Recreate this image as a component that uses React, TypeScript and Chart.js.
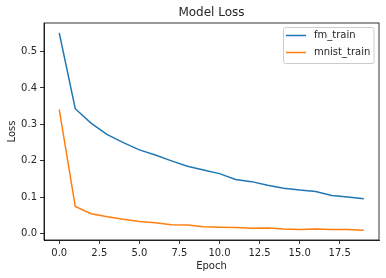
import React, { useEffect, useRef } from "react";
import { Chart, registerables } from "chart.js";

Chart.register(...registerables);

const epochs = [0, 1, 2, 3, 4, 5, 6, 7, 8, 9, 10, 11, 12, 13, 14, 15, 16, 17, 18, 19];
const fmTrain = [0.551, 0.343, 0.303, 0.272, 0.25, 0.23, 0.216, 0.2, 0.185, 0.175, 0.165, 0.149, 0.143, 0.133, 0.125, 0.12, 0.116, 0.105, 0.101, 0.096];
const mnistTrain = [0.3415, 0.075, 0.055, 0.047, 0.04, 0.034, 0.03, 0.025, 0.024, 0.019, 0.018, 0.017, 0.015, 0.016, 0.013, 0.012, 0.013, 0.012, 0.012, 0.01];
const seriesNames = ["fm_train", "mnist_train"];
const seriesColors = ["#1f77b4", "#ff7f0e"];
const xTicks = [0, 2.5, 5, 7.5, 10, 12.5, 15, 17.5];
const yTicks = [0, 0.1, 0.2, 0.3, 0.4, 0.5];
const titleText = "Model Loss";
const xTitle = "Epoch";
const yTitle = "Loss";

const FONT = "DejaVu Sans";
const TXT = "#262626";

export default function App() {
  const ref = useRef<HTMLCanvasElement | null>(null);

  useEffect(() => {
    document.body.style.margin = "0";
    const canvas = ref.current!;
    const all = [...fmTrain, ...mnistTrain];
    const dMin = Math.min(...all);
    const dMax = Math.max(...all);
    const yPad = (dMax - dMin) * 0.05;
    const xMin = Math.min(...epochs);
    const xMax = Math.max(...epochs);
    const xPad = (xMax - xMin) * 0.05;

    const framePlugin = {
      id: "frame",
      afterDraw(chart: any) {
        const { ctx, chartArea } = chart;
        const { left, right, top, bottom } = chartArea;
        ctx.save();
        ctx.strokeStyle = "#000";
        ctx.lineWidth = 0.8;
        ctx.strokeRect(left, top, right - left, bottom - top);
        // title
        ctx.fillStyle = TXT;
        ctx.font = `12px "${FONT}"`;
        ctx.textAlign = "center";
        ctx.textBaseline = "middle";
        ctx.fillText(titleText, (left + right) / 2, 13);
        // legend
        const bx = right - 96;
        const by = top + 4;
        const bw = 90.5;
        const bh = 36;
        ctx.fillStyle = "rgba(255,255,255,0.8)";
        ctx.strokeStyle = "#cccccc";
        ctx.lineWidth = 1;
        ctx.beginPath();
        (ctx as any).roundRect(bx + 0.5, by + 0.5, bw, bh, 2);
        ctx.fill();
        ctx.stroke();
        chart.data.datasets.forEach((ds: any, i: number) => {
          const ry = by + 8.5 + i * 17;
          ctx.strokeStyle = ds.borderColor;
          ctx.lineWidth = 1.5;
          ctx.beginPath();
          ctx.moveTo(bx + 3, ry);
          ctx.lineTo(bx + 23, ry);
          ctx.stroke();
          ctx.fillStyle = TXT;
          ctx.font = `10px "${FONT}"`;
          ctx.textAlign = "left";
          ctx.textBaseline = "middle";
          ctx.fillText(ds.label, bx + 31, ry);
        });
        ctx.restore();
      },
    };

    const chart = new Chart(canvas, {
      type: "line",
      data: {
        datasets: [fmTrain, mnistTrain].map((arr, k) => ({
          label: seriesNames[k],
          data: epochs.map((e, i) => ({ x: e, y: arr[i] })),
          borderColor: seriesColors[k],
          backgroundColor: seriesColors[k],
          borderWidth: 1.5,
          pointRadius: 0,
          tension: 0,
          fill: false,
        })),
      },
      options: {
        responsive: false,
        animation: false,
        layout: { padding: { top: 23, right: 7, left: 0, bottom: 0 } },
        plugins: {
          legend: { display: false },
          title: { display: false },
          tooltip: { enabled: false },
        },
        scales: {
          x: {
            type: "linear",
            min: xMin - xPad,
            max: xMax + xPad,
            afterBuildTicks: (s: any) => {
              s.ticks = xTicks.map((v) => ({ value: v }));
            },
            afterFit: (s: any) => {
              s.height = 38;
            },
            ticks: {
              color: TXT,
              font: { family: FONT, size: 10 },
              padding: 3,
              maxRotation: 0,
              autoSkip: false,
              callback: (v: any) => Number(v).toFixed(1),
            },
            grid: { drawOnChartArea: false, drawTicks: true, tickLength: 4, color: "#000", lineWidth: 0.8 },
            border: { display: true, color: "#000", width: 0.8 },
            title: {
              display: true,
              text: xTitle,
              color: TXT,
              font: { family: FONT, size: 10 },
              padding: { top: 0, bottom: 6 },
            },
          },
          y: {
            type: "linear",
            min: dMin - yPad,
            max: dMax + yPad,
            afterBuildTicks: (s: any) => {
              s.ticks = yTicks.map((v) => ({ value: v }));
            },
            afterFit: (s: any) => {
              s.width = 44;
            },
            ticks: {
              color: TXT,
              font: { family: FONT, size: 10 },
              padding: 3,
              autoSkip: false,
              callback: (v: any) => Number(v).toFixed(1),
            },
            grid: { drawOnChartArea: false, drawTicks: true, tickLength: 4, color: "#000", lineWidth: 0.8 },
            border: { display: true, color: "#000", width: 0.8 },
            title: {
              display: true,
              text: yTitle,
              color: TXT,
              font: { family: FONT, size: 10 },
              padding: { top: 6, bottom: 0 },
            },
          },
        },
      },
      plugins: [framePlugin],
    });
    return () => chart.destroy();
  }, []);

  return (
    <div style={{ width: 386, height: 278 }}>
      <canvas ref={ref} width={386} height={278} style={{ width: 386, height: 278, display: "block" }} />
    </div>
  );
}
